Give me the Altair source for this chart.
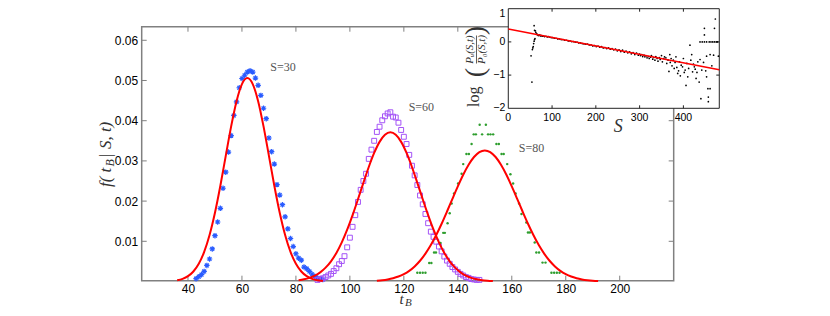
import altair as alt
import pandas as pd

# ---------------- main panel data ----------------
main_x_domain = [22.85, 220.0]
main_y_domain = [0.0002, 0.06338]
main_x_ticks = [40, 60, 80, 100, 120, 140, 160, 180, 200]
main_y_ticks = [0.01, 0.02, 0.03, 0.04, 0.05, 0.06]

# S=30 (blue asterisks)
s30_t = list(range(43, 91))
s30_f = [0.0007, 0.0012, 0.0017, 0.0025, 0.0040, 0.0056, 0.0081, 0.0114, 0.0148, 0.0182,
         0.0232, 0.0272, 0.0322, 0.0363, 0.0413, 0.0447, 0.0482, 0.0505, 0.0513, 0.0521,
         0.0524, 0.0521, 0.0506, 0.0488, 0.0463, 0.0431, 0.0405, 0.0357, 0.0323, 0.0292,
         0.0241, 0.0215, 0.0191, 0.0161, 0.0131, 0.0107, 0.0087, 0.0069, 0.0058, 0.0053,
         0.0036, 0.0032, 0.0025, 0.0018, 0.0013, 0.0009, 0.0007, 0.0005]

# S=60 (purple squares)
s60_t = list(range(88, 149))
s60_f = [0.0004, 0.0006, 0.0008, 0.0011, 0.0015, 0.0019, 0.0026, 0.0033, 0.0043, 0.0051,
         0.0063, 0.0085, 0.0109, 0.0136, 0.0165, 0.0198, 0.0228, 0.0250, 0.0268, 0.0305,
         0.0328, 0.0350, 0.0372, 0.0385, 0.0401, 0.0411, 0.0418, 0.0421, 0.0410, 0.0408,
         0.0395, 0.0377, 0.0360, 0.0342, 0.0315, 0.0288, 0.0264, 0.0240, 0.0214, 0.0192,
         0.0168, 0.0145, 0.0124, 0.0111, 0.0099, 0.0087, 0.0075, 0.0062, 0.0052, 0.0044,
         0.0036, 0.0030, 0.0024, 0.0019, 0.0015, 0.0011, 0.0009, 0.0006, 0.0005, 0.0004,
         0.0004]

# S=80 (green dots)
s80_t = [125, 126, 127, 128, 129.4, 130.2, 131.2, 131.9, 133.6, 134.6, 135.2, 136.2, 137.0,
         137.7, 138.6, 140.1, 141.4, 142.0, 143.2, 144.1, 145.1, 145.9, 146.7, 148.1, 149.0,
         150.4, 151.2, 152.1, 153.1, 154.3, 155.2, 156.2, 157.0, 158.3, 159.5, 160.5, 161.4,
         162.7, 163.6, 165.4, 166.0, 166.7, 168.5, 169.1, 170.1, 171.4, 172.5, 174.7, 175.7,
         176.7, 177.7]
s80_f = [0.0022, 0.0022, 0.0022, 0.0022, 0.0046, 0.0046, 0.0072, 0.0072, 0.0096, 0.0121,
         0.0121, 0.0145, 0.0170, 0.0194, 0.0219, 0.0244, 0.0268, 0.0292, 0.0317, 0.0317,
         0.0342, 0.0366, 0.0366, 0.0390, 0.0366, 0.0390, 0.0366, 0.0366, 0.0366, 0.0342,
         0.0342, 0.0317, 0.0317, 0.0292, 0.0267, 0.0244, 0.0219, 0.0194, 0.0168, 0.0147,
         0.0122, 0.0122, 0.0097, 0.0072, 0.0072, 0.0047, 0.0047, 0.0022, 0.0022, 0.0022,
         0.0022]

# red fitted curves
fit30_t = list(range(36, 92, 2))
fit30_f = [0.00031, 0.00066, 0.00132, 0.00249, 0.00441, 0.00736, 0.01157, 0.01711, 0.02383,
           0.03125, 0.03859, 0.04486, 0.04910, 0.05060, 0.04910, 0.04486, 0.03859, 0.03125,
           0.02383, 0.01711, 0.01157, 0.00736, 0.00441, 0.00249, 0.00132, 0.00066, 0.00031,
           0.00014]
fit60_t = list(range(81, 155, 2))
fit60_f = [0.00031, 0.00054, 0.00090, 0.00145, 0.00227, 0.00344, 0.00502, 0.00710, 0.00973,
           0.01288, 0.01651, 0.02046, 0.02454, 0.02848, 0.03197, 0.03473, 0.03649, 0.03710,
           0.03649, 0.03473, 0.03197, 0.02848, 0.02454, 0.02046, 0.01651, 0.01288, 0.00973,
           0.00710, 0.00502, 0.00344, 0.00227, 0.00145, 0.00090, 0.00054, 0.00031, 0.00018,
           0.00010]
fit80_t = list(range(110, 194, 2))
fit80_f = [0.00019, 0.00032, 0.00052, 0.00081, 0.00123, 0.00183, 0.00265, 0.00375, 0.00516,
           0.00693, 0.00906, 0.01156, 0.01437, 0.01741, 0.02056, 0.02367, 0.02656, 0.02905,
           0.03097, 0.03219, 0.03260, 0.03219, 0.03097, 0.02905, 0.02656, 0.02367, 0.02056,
           0.01741, 0.01437, 0.01156, 0.00906, 0.00693, 0.00516, 0.00375, 0.00265, 0.00183,
           0.00123, 0.00081, 0.00052, 0.00032, 0.00019, 0.00012]

series_labels = ["S=30", "S=60", "S=80"]
series_label_t = [75.2, 126.5, 167.3]
series_label_f = [0.0534, 0.0435, 0.0333]

# ---------------- inset data ----------------
inset_x_domain = [0, 482]
inset_y_domain = [-2, 1]
inset_x_ticks = [0, 100, 200, 300, 400]
inset_y_ticks = [0, -1, -2]
inset_y_labels = ["0", "\u22121", "\u22122"]
inset_top_label = "1"

inset_S = [52, 54, 55, 56, 57, 58, 59, 60, 61, 60, 62, 59, 63, 65,
           66, 68, 70, 72, 74, 76, 78, 80, 83, 86, 89, 92, 95, 98, 101, 105, 109, 113, 117,
           121, 125, 129, 133, 137, 141, 145, 149, 153, 157, 161, 165, 169, 173, 177, 181,
           185, 189, 193, 197, 201, 205, 209, 213, 217, 221, 225, 229, 233, 237, 241, 245,
           249, 253, 257, 261, 265, 269, 273, 277, 281, 285, 289, 293, 297,
           300, 302, 305, 307, 310, 312, 315, 317, 320, 322, 325, 327, 330, 332, 335, 337,
           340, 342, 345, 347, 350, 352, 355, 357, 360, 362, 365, 367, 369, 370, 372, 374,
           377, 379, 381, 383, 385, 387, 389, 391, 393, 395, 398, 400, 402, 404, 406, 408,
           410, 412, 415, 417, 419, 421, 423, 425, 427, 429, 431, 433, 436, 438, 438, 440,
           442, 443, 446, 448, 448, 448, 451, 453, 453, 453, 456, 457, 457, 459, 461, 461,
           463, 465, 467, 469, 471, 471, 473, 475, 478, 480]
inset_logratio = [-0.42, -1.21, -0.23, -0.18, -0.14, -0.05, 0.02, 0.07, 0.10, 0.35, 0.33, 0.49,
                  0.28, 0.24,
                  0.22, 0.20, 0.19, 0.21, 0.18, 0.19, 0.17, 0.18, 0.16, 0.17, 0.15, 0.16, 0.14,
                  0.13, 0.13, 0.11, 0.11, 0.09, 0.09, 0.07, 0.07, 0.05, 0.05, 0.03, 0.03, 0.01,
                  0.01, -0.01, -0.01, -0.03, -0.03, -0.05, -0.06, -0.07, -0.07, -0.09, -0.09,
                  -0.12, -0.11, -0.14, -0.13, -0.16, -0.14, -0.18, -0.17, -0.20, -0.18, -0.22,
                  -0.20, -0.24, -0.22, -0.27, -0.24, -0.29, -0.25, -0.31, -0.28, -0.33, -0.30,
                  -0.36, -0.32, -0.38, -0.34, -0.40,
                  -0.37, -0.41, -0.38, -0.44, -0.40, -0.45, -0.42, -0.48, -0.44, -0.50, -0.46,
                  -0.41, -0.52, -0.47, -0.55, -0.44, -0.50, -0.58, -0.47, -0.53, -0.41, -0.60,
                  -0.50, -0.45, -0.48, -0.65, -0.55, -0.89, -0.38, -0.62, -0.50, -0.72, -0.55,
                  -0.80, -0.62, -0.45, -0.77, -0.95, -0.87, -0.60, -1.02, -0.70, -0.75, -0.50,
                  -0.92, -0.85, -1.31, -0.65, -1.05, -0.80, -0.10, -0.55, -0.38, -0.90, -0.67,
                  -0.75, -0.82, -1.10, -0.92, -0.60, -1.21, -0.53, 0.00, -1.71, -0.85, 0.00,
                  -0.62, 0.00, 0.21, 0.41, -0.87, -1.05, -0.43, 0.00, -1.41, -1.66, -1.80, 0.00,
                  -1.41, -0.38, 0.00, -0.72, 0.00, -0.40, 0.41, 0.00, 0.69, 0.00, 0.00, -0.43]

inset_fit_S = [0, 482]
inset_fit_v = [0.39, -0.84]

# ---------------- layout (plot area of main panel) ----------------
W, H = 532, 254
GRAY = "#808080"
SERIF = "Liberation Serif"
SANS = "Liberation Sans"

xs = alt.Scale(domain=main_x_domain, nice=False, zero=False)
ys = alt.Scale(domain=main_y_domain, nice=False, zero=False)
x_axis = alt.Axis(values=main_x_ticks, ticks=False, tickSize=0, domain=False, grid=False,
                  labelFont=SANS, labelFontSize=12, labelColor="#000", labelPadding=3,
                  labelFlush=False, labelOverlap=False, title=None)
y_axis = alt.Axis(values=main_y_ticks, format=".2f", ticks=False, tickSize=0, domain=False,
                  grid=False, labelFont=SANS, labelFontSize=12, labelColor="#000",
                  labelPadding=4, labelFlush=False, labelOverlap=False, title=None)


def MX(f="x"):
    return alt.X(f"{f}:Q", scale=xs, axis=x_axis)


def MY(f="y"):
    return alt.Y(f"{f}:Q", scale=ys, axis=y_axis)


frame_df = pd.DataFrame({"x": [main_x_domain[0]], "x2": [main_x_domain[1]],
                         "y": [main_y_domain[0]], "y2": [main_y_domain[1]]})
frame = alt.Chart(frame_df).mark_rect(fill="white", fillOpacity=0, stroke=GRAY,
                                      strokeWidth=1.5).encode(
    x=MX(), x2="x2:Q", y=MY(), y2="y2:Q")

xt_df = pd.DataFrame({"x": main_x_ticks})
yt_df = pd.DataFrame({"y": main_y_ticks})
tick_b = alt.Chart(xt_df).mark_rule(color=GRAY, strokeWidth=1).encode(
    x=MX(), y=alt.value(H), y2=alt.value(H - 5))
tick_t = alt.Chart(xt_df).mark_rule(color=GRAY, strokeWidth=1).encode(
    x=MX(), y=alt.value(0), y2=alt.value(5))
tick_l = alt.Chart(yt_df).mark_rule(color=GRAY, strokeWidth=1).encode(
    y=MY(), x=alt.value(0), x2=alt.value(5))
tick_r = alt.Chart(yt_df).mark_rule(color=GRAY, strokeWidth=1).encode(
    y=MY(), x=alt.value(W), x2=alt.value(W - 5))

ASTERISK = "M-1,0L1,0M0,-1L0,1M-0.7,-0.7L0.7,0.7M-0.7,0.7L0.7,-0.7"
pts30 = alt.Chart(pd.DataFrame({"x": s30_t, "y": s30_f})).mark_point(
    shape=ASTERISK, size=30, filled=False, color="#2a5cff", strokeWidth=1.2, opacity=1
).encode(x=MX(), y=MY())
pts60 = alt.Chart(pd.DataFrame({"x": s60_t, "y": s60_f})).mark_point(
    shape="square", size=24, filled=False, color="#a452f7", strokeWidth=1, opacity=1
).encode(x=MX(), y=MY())
pts80 = alt.Chart(pd.DataFrame({"x": s80_t, "y": s80_f})).mark_circle(
    size=6, color="#2e9e2e", opacity=1
).encode(x=MX(), y=MY())

fit_df = pd.concat([
    pd.DataFrame({"x": fit30_t, "y": fit30_f, "c": "30"}),
    pd.DataFrame({"x": fit60_t, "y": fit60_f, "c": "60"}),
    pd.DataFrame({"x": fit80_t, "y": fit80_f, "c": "80"}),
])
fits = alt.Chart(fit_df).mark_line(color="#ff0000", strokeWidth=2,
                                   interpolate="monotone").encode(
    x=MX(), y=MY(), detail="c:N")

lab_df = pd.DataFrame({"x": series_label_t, "y": series_label_f, "t": series_labels})
labels = alt.Chart(lab_df).mark_text(font=SERIF, fontSize=12, color="#555").encode(
    x=MX(), y=MY(), text="t:N")

main = alt.layer(frame, tick_b, tick_t, tick_l, tick_r, pts30, pts60, pts80, fits, labels)

# ---------------- inset ----------------
IL, IR, IT, IB = 366.6, 577.6, -18.0, 81.6
ixs = alt.Scale(domain=inset_x_domain, range=[IL, IR], nice=False, zero=False)
iys = alt.Scale(domain=inset_y_domain, range=[IB, IT], nice=False, zero=False)


def IX(f="x"):
    return alt.X(f"{f}:Q", scale=ixs, axis=None)


def IY(f="y"):
    return alt.Y(f"{f}:Q", scale=iys, axis=None)


ibox_df = pd.DataFrame({"x": [inset_x_domain[0]], "x2": [inset_x_domain[1]],
                        "y": [inset_y_domain[0]], "y2": [inset_y_domain[1]]})
ibox = alt.Chart(ibox_df).mark_rect(fill="white", stroke="#222", strokeWidth=1).encode(
    x=IX(), x2="x2:Q", y=IY(), y2="y2:Q")
ixt = pd.DataFrame({"x": inset_x_ticks[1:]})
iyt = pd.DataFrame({"y": inset_y_ticks[:2]})
itb = alt.Chart(ixt).mark_rule(color="#222").encode(x=IX(), y=alt.value(IB), y2=alt.value(IB - 3))
itt = alt.Chart(ixt).mark_rule(color="#222").encode(x=IX(), y=alt.value(IT), y2=alt.value(IT + 3))
itl = alt.Chart(iyt).mark_rule(color="#222").encode(y=IY(), x=alt.value(IL), x2=alt.value(IL + 3))
itr = alt.Chart(iyt).mark_rule(color="#222").encode(y=IY(), x=alt.value(IR), x2=alt.value(IR - 3))
ipts = alt.Chart(pd.DataFrame({"x": inset_S, "y": inset_logratio})).mark_circle(
    size=3, color="black", opacity=1).encode(x=IX(), y=IY())
iline = alt.Chart(pd.DataFrame({"x": inset_fit_S, "y": inset_fit_v})).mark_line(
    color="#ff0000", strokeWidth=1.5).encode(x=IX(), y=IY())
ixlab = alt.Chart(pd.DataFrame({"x": inset_x_ticks, "t": [str(v) for v in inset_x_ticks]})).mark_text(
    font=SANS, fontSize=10.5, color="#000", baseline="middle").encode(
    x=IX(), y=alt.value(IB + 9.5), text="t:N")
iylab = alt.Chart(pd.DataFrame({"y": inset_y_ticks, "t": inset_y_labels})).mark_text(
    font=SANS, fontSize=10.5, color="#000", align="right", baseline="middle").encode(
    y=IY(), x=alt.value(IL - 3), text="t:N")
iytop = alt.Chart(pd.DataFrame({"t": [inset_top_label]})).mark_text(
    font=SANS, fontSize=10.5, color="#000", align="right", baseline="top").encode(
    x=alt.value(IL - 3), y=alt.value(IT + 0.5), text="t:N")

inset = alt.layer(ibox, itb, itt, itl, itr, ipts, iline, ixlab, iylab, iytop)

# ---------------- titles (math-like pieces) ----------------
one = pd.DataFrame({"a": [0]})


def txt(s, x, y, size, italic=True, angle=0, align="left", baseline="alphabetic", color="#333"):
    kw = dict(font=SERIF, fontSize=size, color=color, align=align, baseline=baseline, text=s)
    if italic:
        kw["fontStyle"] = "italic"
    if angle:
        kw["angle"] = angle
    return alt.Chart(one).mark_text(**kw).encode(x=alt.value(x), y=alt.value(y))


titles = [
    # x title t_B
    txt("t", 259.8, 277.8, 15, align="center"),
    txt("B", 263.3, 279.6, 11),
    # y title f(t_B|S,t)
    txt("f( t", -30.7, 160.3, 17, angle=270),
    txt("B", -27.2, 139.8, 12, angle=270),
    txt("| S, t)", -30.7, 131.3, 17, angle=270),
    # inset x title
    txt("S", 476.6, 100.3, 18, align="center", baseline="middle"),
    # inset y title log( Pu/P0 )
    txt("log", 337.3, 80.3, 16, italic=False, angle=270),
    txt("(", 334.8, 45.8, 28, italic=False, angle=270, align="center", baseline="middle"),
    txt(")", 334.8, 3.8, 28, italic=False, angle=270, align="center", baseline="middle"),
    txt("P\u1d64(S,t)", 328.8, 22.8, 11, angle=270, align="center", baseline="middle"),
    txt("P\u2080(S,t)", 340.8, 22.8, 11, angle=270, align="center", baseline="middle"),
]
bar = alt.Chart(one).mark_rule(color="#333", strokeWidth=0.8).encode(
    x=alt.value(334.8), y=alt.value(8.8), y2=alt.value(36.8))

chart = alt.layer(main, inset, *titles, bar).resolve_scale(
    x="independent", y="independent"
).properties(
    width=W, height=H,
    padding={"left": 133.7, "top": 18.7, "right": 80, "bottom": 27.3},
    autosize=alt.AutoSizeParams(type="none"),
).configure_view(strokeWidth=0)

chart.save("out.html", embed_options={"renderer": "svg", "actions": False})
